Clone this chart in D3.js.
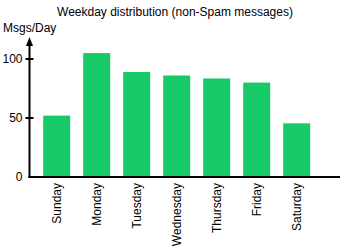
<!DOCTYPE html>
<html>
<head>
<meta charset="utf-8">
<script src="https://cdn.jsdelivr.net/npm/d3@7"></script>
<style>
  body { margin: 0; background: #fff; }
  svg { display: block; font-family: "Liberation Sans", Arial, sans-serif; }
</style>
</head>
<body>
<div id="chart"></div>
<script>
'use strict';

const days = ['Sunday', 'Monday', 'Tuesday', 'Wednesday', 'Thursday', 'Friday', 'Saturday'];
const msgsPerDay = [52, 105, 89, 86, 83.5, 80, 45.5];
const yTicks = [0, 50, 100];

const width = 350, height = 250;
const axisX = 29.5, baseY = 177;

const svg = d3.select('#chart').append('svg')
    .attr('width', width)
    .attr('height', height)
    .attr('viewBox', [0, 0, width, height]);

const x = d3.scaleBand()
    .domain(days)
    .range([36.7, 316.7])
    .paddingInner(0.325)
    .paddingOuter(0.1625);

const y = d3.scaleLinear()
    .domain([0, 100])
    .range([baseY, 59]);

// title
svg.append('text')
    .attr('x', 175)
    .attr('y', 16)
    .attr('text-anchor', 'middle')
    .style('font-size', '12px')
    .text('Weekday distribution (non-Spam messages)');

svg.append('text')
    .attr('x', 3)
    .attr('y', 32)
    .style('font-size', '12px')
    .text('Msgs/Day');

// bars
svg.append('g')
    .selectAll('rect')
    .data(days)
    .join('rect')
        .attr('x', d => x(d))
        .attr('width', x.bandwidth())
        .attr('y', (d, i) => y(msgsPerDay[i]))
        .attr('height', (d, i) => baseY - y(msgsPerDay[i]))
        .attr('fill', '#17c967');

// x axis line + labels
svg.append('line')
    .attr('x1', axisX - 1).attr('x2', 340)
    .attr('y1', baseY).attr('y2', baseY)
    .attr('stroke', '#000').attr('stroke-width', 2);

svg.append('g')
    .selectAll('text')
    .data(days)
    .join('text')
        .attr('transform', d => `translate(${x(d) + x.bandwidth() / 2 + 4}, ${baseY + 6}) rotate(-90)`)
        .attr('text-anchor', 'end')
        .style('font-size', '12px')
        .text(d => d);

// y axis line, arrow, ticks
svg.append('line')
    .attr('x1', axisX).attr('x2', axisX)
    .attr('y1', baseY + 1).attr('y2', 44)
    .attr('stroke', '#000').attr('stroke-width', 2);

svg.append('path')
    .attr('d', `M${axisX},37 L${axisX - 3.5},46 L${axisX + 3.5},46 Z`)
    .attr('fill', '#000');

const ticks = svg.append('g');
ticks.selectAll('line')
    .data(yTicks.filter(t => t > 0))
    .join('line')
        .attr('x1', axisX - 4).attr('x2', axisX + 4)
        .attr('y1', d => y(d)).attr('y2', d => y(d))
        .attr('stroke', '#000').attr('stroke-width', 2);
ticks.selectAll('text')
    .data(yTicks)
    .join('text')
        .attr('x', axisX - 7)
        .attr('y', d => y(d) + 4)
        .attr('text-anchor', 'end')
        .style('font-size', '12px')
        .text(d => d);
</script>
</body>
</html>
